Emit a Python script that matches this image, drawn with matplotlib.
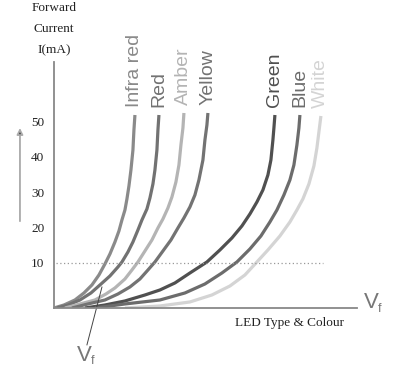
import matplotlib
matplotlib.use("Agg")
import matplotlib.pyplot as plt

# LED forward characteristics (schematic)
# V in arbitrary units, I in mA
led_names = ["Infra red", "Red", "Amber", "Yellow", "Green", "Blue", "White"]
led_colors = ["#8a8a8a", "#727272", "#b4b4b4", "#737373", "#505050", "#6c6c6c", "#d4d4d4"]

ir_v = [0.00, 0.10, 0.21, 0.30, 0.38, 0.45, 0.51, 0.56, 0.61, 0.65, 0.68, 0.71,
        0.73, 0.75, 0.77, 0.79, 0.80, 0.81]
ir_i = [-2.84, -1.99, -0.57, 1.42, 3.69, 6.52, 9.65, 12.48, 15.89, 19.01, 22.13,
        24.96, 28.09, 31.77, 36.31, 41.99, 47.66, 51.91]

red_v = [0.03, 0.14, 0.26, 0.37, 0.46, 0.56, 0.64, 0.68, 0.74, 0.79, 0.84, 0.88,
         0.93, 0.96, 0.99, 1.01, 1.03, 1.04, 1.05]
red_i = [-2.84, -1.99, -0.57, 1.42, 3.69, 6.24, 8.79, 10.21, 13.05, 15.89, 19.29,
         22.13, 25.25, 28.37, 32.34, 36.31, 41.99, 47.66, 51.91]

amber_v = [0.11, 0.26, 0.41, 0.52, 0.61, 0.71, 0.78, 0.84, 0.91, 0.98, 1.04, 1.09,
           1.14, 1.18, 1.22, 1.25, 1.27, 1.29, 1.30]
amber_i = [-2.84, -1.70, -0.57, 1.13, 2.84, 5.39, 7.94, 10.21, 13.33, 16.45, 19.86,
           22.41, 25.53, 28.65, 32.91, 37.73, 43.40, 48.23, 52.48]

yellow_v = [0.18, 0.34, 0.51, 0.64, 0.76, 0.86, 0.94, 1.01, 1.09, 1.17, 1.24, 1.30,
            1.36, 1.41, 1.45, 1.49, 1.51, 1.53, 1.54]
yellow_i = [-2.84, -1.70, -0.57, 1.13, 3.12, 5.39, 7.94, 10.21, 13.33, 16.45, 19.86,
            22.70, 25.82, 29.22, 33.48, 39.15, 44.82, 49.08, 52.48]

green_v = [0.31, 0.51, 0.71, 0.91, 1.06, 1.21, 1.36, 1.53, 1.66, 1.78, 1.88, 1.96,
           2.03, 2.09, 2.14, 2.17, 2.19, 2.20, 2.21]
green_i = [-2.84, -1.99, -0.85, 0.85, 2.27, 4.26, 7.09, 10.21, 13.62, 17.02, 20.43,
           23.83, 27.23, 30.64, 34.89, 39.15, 44.82, 48.23, 51.91]

blue_v = [0.41, 0.71, 1.06, 1.31, 1.51, 1.68, 1.83, 1.96, 2.07, 2.16, 2.23, 2.30,
          2.36, 2.40, 2.43, 2.45, 2.46]
blue_i = [-2.84, -1.70, -0.57, 1.42, 3.97, 7.09, 10.21, 13.90, 17.59, 21.56, 24.96,
          29.22, 33.48, 37.73, 43.40, 48.23, 51.91]

white_v = [0.71, 1.06, 1.36, 1.58, 1.76, 1.91, 2.03, 2.14, 2.26, 2.36, 2.43, 2.49,
           2.55, 2.60, 2.63, 2.65, 2.67]
white_i = [-2.84, -2.27, -1.13, 0.85, 3.40, 6.52, 10.21, 13.62, 17.59, 21.56, 24.96,
           28.09, 32.34, 37.45, 42.55, 47.09, 51.63]

curves_v = [ir_v, red_v, amber_v, yellow_v, green_v, blue_v, white_v]
curves_i = [ir_i, red_i, amber_i, yellow_i, green_i, blue_i, white_i]

tick_values = [10, 20, 30, 40, 50]

fig = plt.figure(figsize=(4.15, 3.75), dpi=100)
ax = fig.add_axes([0.130, 0.1787, 0.730, 0.656])

for v, i, name, c in zip(curves_v, curves_i, led_names, led_colors):
    ax.plot(v, i, color=c, lw=2.3, solid_capstyle="butt", solid_joinstyle="round")
    ax.text(v[-1], i[-1] + 2.2, name, rotation=90, ha="center", va="bottom",
            color=c, fontsize=14, family="Liberation Sans")

# 10 mA reference line
ax.plot([0.02, 2.69], [10, 10], color="#999999", lw=0.9, ls=(0, (1, 2)))

ax.set_xlim(0, 3.03)
ax.set_ylim(-2.84, 66.95)
for s in ["top", "right"]:
    ax.spines[s].set_visible(False)
for s in ["left", "bottom"]:
    ax.spines[s].set_color("#888888")
    ax.spines[s].set_linewidth(1.3)
ax.set_xticks([])
ax.set_yticks(tick_values)
ax.set_yticklabels([str(t) for t in tick_values], family="Liberation Serif",
                   fontsize=9.5, color="#222222")
ax.tick_params(axis="y", length=0, pad=7)

# y axis title
for txt, yy in zip(["Forward", "Current", "I(mA)"], [0.978, 0.922, 0.866]):
    fig.text(0.130, yy, txt, ha="center", va="center", family="Liberation Serif",
             fontsize=9.5, color="#222222")

# up arrow at left
ax.annotate("", xy=(-0.34, 49), xytext=(-0.34, 21), xycoords="data",
            arrowprops=dict(arrowstyle="-|>", color="#aaaaaa", lw=1.3,
                            mutation_scale=9, fc="#333333", ec="#aaaaaa"),
            annotation_clip=False)

# x axis labels
ax.text(2.36, -7.0, "LED Type & Colour", ha="center", va="center",
        family="Liberation Serif", fontsize=9.5, color="#222222")
ax.text(3.10, -1.4, "V", ha="left", va="center", family="Liberation Sans",
        fontsize=16, color="#777777")
ax.text(3.24, -3.0, "f", ha="left", va="center", family="Liberation Sans",
        fontsize=9, color="#777777")

# Vf pointer
ax.plot([0.33, 0.48], [-13.3, 3.1], color="#444444", lw=0.7, clip_on=False)
ax.text(0.23, -16.3, "V", ha="left", va="center", family="Liberation Sans",
        fontsize=16, color="#777777")
ax.text(0.37, -18.0, "f", ha="left", va="center", family="Liberation Sans",
        fontsize=9, color="#777777")

fig.savefig("out.png", dpi=100)
